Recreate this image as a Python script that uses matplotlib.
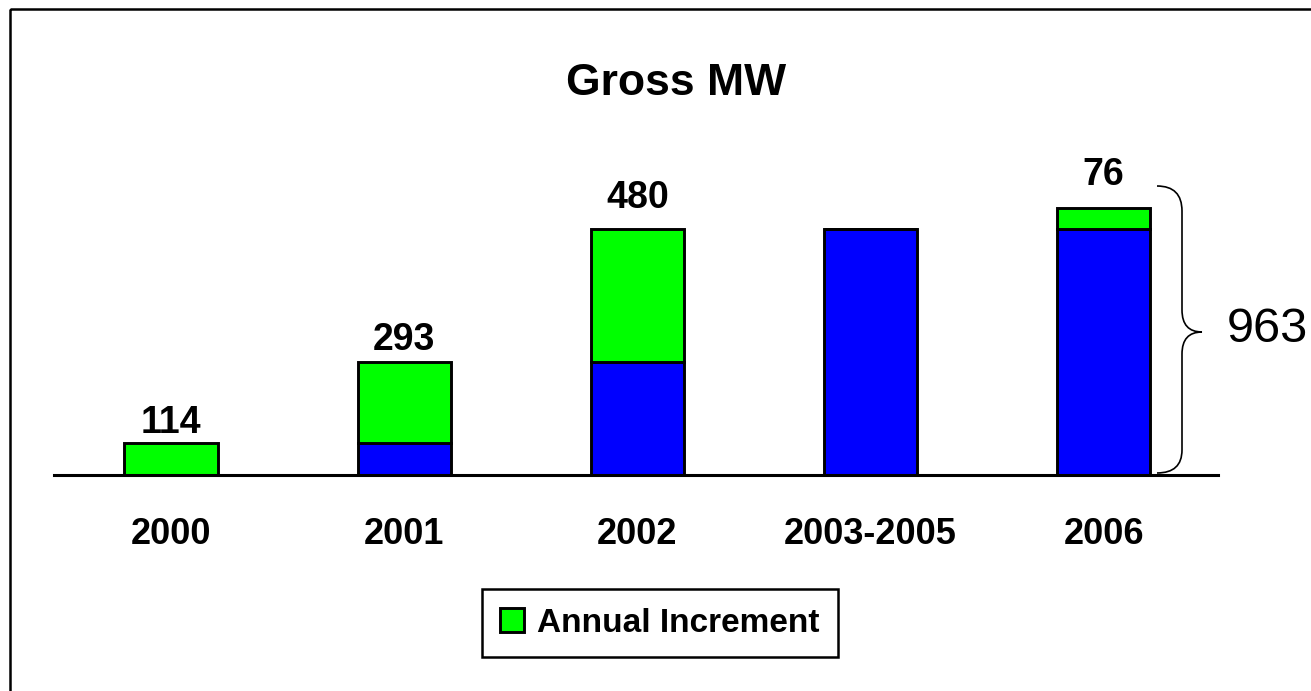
import matplotlib.pyplot as plt
from matplotlib.path import Path
from matplotlib.patches import PathPatch, Rectangle

plt.rcParams['font.family'] = ['Liberation Sans', 'DejaVu Sans']

# data
years = ['2000', '2001', '2002', '2003-2005', '2006']
base = [0, 114, 407, 887, 887]          # cumulative MW before the year
increment = [114, 293, 480, 0, 76]      # annual increment
total = 963
label_pad = [10, 12, 21, 0, 23]         # px gap between bar top and label

W, H = 1311, 691
fig = plt.figure(figsize=(W / 100, H / 100), dpi=100)

# axes placed so the baseline sits at y=475 px
ax = fig.add_axes([54 / W, (H - 475) / H, (1218 - 54) / W, 325 / H])
x = list(range(len(years)))
ax.bar(x, base, width=0.4, color='#0000ff', edgecolor='black', linewidth=2.1, zorder=2)
inc_bars = ax.bar(x, increment, width=0.4, bottom=base, color='#00ff00',
                  edgecolor='black', linewidth=2.1, zorder=2, label='Annual Increment')

ax.set_xlim(-0.502, 4.49)
ax.set_ylim(0, 325 * total / 267)
for s in ['top', 'left', 'right']:
    ax.spines[s].set_visible(False)
ax.spines['bottom'].set_linewidth(2.2)
ax.spines['bottom'].set_zorder(3)
ax.set_yticks([])
ax.set_xticks(x)
ax.set_xticklabels(years, fontsize=26, fontweight='bold')
ax.tick_params(axis='x', length=0, pad=30)

for xi, b, inc, pad in zip(x, base, increment, label_pad):
    if inc > 0:
        ax.annotate(str(inc), (xi, b + inc), xytext=(0, pad), textcoords='offset pixels',
                    ha='center', va='baseline', fontsize=27, fontweight='bold')

fig.text(676 / W, 1 - 95 / H, 'Gross MW', ha='center', va='baseline',
         fontsize=32, fontweight='bold')

# overlay in pixel coordinates for the brace and frame
ov = fig.add_axes([0, 0, 1, 1], facecolor='none')
ov.set_xlim(0, W)
ov.set_ylim(H, 0)
ov.axis('off')

verts = [(1157, 186), (1182, 186), (1182, 211),
         (1182, 310),
         (1182, 332), (1202, 332),
         (1182, 332), (1182, 354),
         (1182, 450),
         (1182, 473), (1157, 473)]
codes = [Path.MOVETO, Path.CURVE3, Path.CURVE3,
         Path.LINETO,
         Path.CURVE3, Path.CURVE3,
         Path.CURVE3, Path.CURVE3,
         Path.LINETO,
         Path.CURVE3, Path.CURVE3]
ov.add_patch(PathPatch(Path(verts, codes), facecolor='none', edgecolor='black', lw=1.2))
fig.text(1227 / W, 1 - 330 / H, str(total), ha='left', va='center', fontsize=35)

ov.add_patch(Rectangle((10, 9), W + 20, H + 20, facecolor='none', edgecolor='black', lw=1.8))

leg = fig.legend(handles=[inc_bars], loc='center', bbox_to_anchor=(660 / W, 1 - 623 / H),
                 prop={'weight': 'bold', 'size': 24}, frameon=True, fancybox=False,
                 framealpha=1, edgecolor='black', handlelength=0.7, handleheight=0.7,
                 handletextpad=0.4, borderpad=0.55, borderaxespad=0)
leg.get_frame().set_linewidth(1.8)

fig.savefig('out.png', dpi=100)
